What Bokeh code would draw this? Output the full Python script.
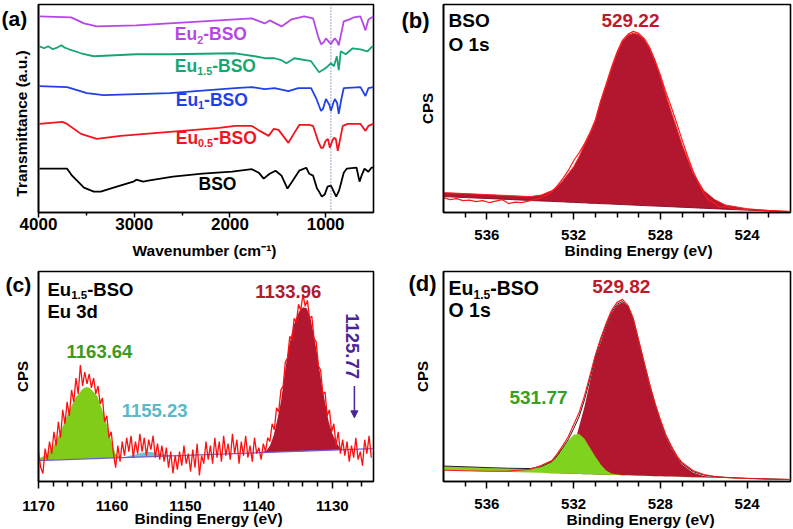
import numpy as np
from math import pi
from bokeh.plotting import figure
from bokeh.models import Range1d, Label, Span, Arrow, NormalHead, FixedTicker, GridBox, Column
from bokeh.embed import file_html
from bokeh.resources import INLINE

# ---------------- (a) FTIR spectra (wavenumber, offset transmittance) ----------------
wn_bso = [3990, 3701, 3649, 3525, 3422, 3350, 3216, 3009, 2978, 2906, 2854, 2596, 2287, 1977, 1771,
          1699, 1647, 1585, 1523, 1461, 1399, 1358, 1276, 1203, 1172, 1131, 1090, 1069, 1040, 1010,
          980, 945, 910, 890, 860, 830, 811, 780, 677, 646, 625, 594, 553, 522, 502]
t_bso = [44, 44, 37, 25, 21, 21, 25, 31, 33, 31, 32, 36, 39, 41, 43.5,
         40, 34, 39, 42, 37, 24, 30, 42, 45, 39, 37, 24, 21, 16, 18,
         26, 27, 20, 16, 22, 33, 40, 44, 45, 31, 37, 44, 41, 45, 45]

wn_e05 = [3990, 3752, 3701, 3556, 3391, 3143, 2627, 2111, 1946, 1771, 1688, 1595, 1544, 1492, 1389,
          1327, 1276, 1172, 1131, 1079, 1048, 1028, 1000, 976, 956, 930, 914, 894, 873, 852,
          821, 770, 636, 584, 553, 502]
t_e05 = [89, 91, 89, 79, 74, 77, 81, 85, 87, 87, 82, 77, 84, 83, 70,
         80, 88, 88, 87, 72, 65, 65, 72, 74, 65, 72, 75, 74, 62, 72,
         87, 89, 89, 82, 87, 89]

wn_e1 = [3990, 3701, 3494, 3319, 2627, 1946, 1771, 1637, 1533, 1389, 1286, 1152, 1100, 1048, 1028,
         997, 960, 945, 920, 904, 880, 863, 840, 811, 636, 584, 553, 502]
t_e1 = [127, 126, 120, 118, 120, 125, 126, 124, 125, 122, 125, 125, 115, 102, 104,
        114, 108, 102, 110, 114, 110, 99, 112, 125, 126, 117, 125, 126]

wn_e15 = [3990, 3940, 3900, 3850, 3800, 3760, 3732, 3680, 3556, 3422, 2978, 2627, 1946, 1740, 1637,
          1533, 1461, 1410, 1327, 1152, 1069, 1018, 976, 945, 914, 883, 863, 842, 790, 718,
          636, 563, 512, 502]
t_e15 = [167, 165, 167, 164, 166, 168, 166, 164, 160, 157, 159, 159, 160, 157, 155,
         155, 153, 150, 155, 152, 141, 144, 147, 150, 147, 157, 143, 162, 159, 165,
         164, 162, 167, 167]

wn_e2 = [3990, 3659, 3525, 3391, 2978, 2287, 1771, 1637, 1585, 1461, 1358, 1224, 1131, 1079, 1048,
         1020, 997, 970, 945, 920, 904, 880, 863, 811, 750, 708, 636, 584, 553, 502]
t_e2 = [197, 196, 190, 187, 188, 192, 195, 190, 193, 187, 194, 197, 195, 177, 169,
        171, 175, 172, 169, 173, 175, 172, 168, 192, 194, 196, 197, 183, 194, 197]

marker_wn = 945
a_ticks = [4000, 3000, 2000, 1000]
a_minor = [3500, 2500, 1500]

# ---------------- (b) / (d) O 1s XPS ----------------
grid_o = [538, 537, 536, 535, 534, 533.5, 533, 532.75, 532.5, 532.25, 532, 531.75, 531.5, 531.25, 531,
          530.75, 530.5, 530.25, 530, 529.75, 529.5, 529.25, 529, 528.75, 528.5, 528.25, 528, 527.75,
          527.5, 527.25, 527, 526.5, 526, 525.5, 525, 524, 523, 522]
b_base = [16, 15, 14.1, 13.1, 12.1, 11.6, 11.2, 10.9, 10.7, 10.4, 10.2, 9.9, 9.7, 9.4, 9.2,
          8.9, 8.7, 8.5, 8.2, 8.0, 7.7, 7.5, 7.2, 7.0, 6.7, 6.5, 6.3, 6.0,
          5.8, 5.5, 5.3, 4.8, 4.3, 3.8, 3.3, 2.4, 1.4, 0.5]
b_peak = [20, 19, 18, 17, 16, 17.5, 22, 26, 32, 39, 46, 56, 68, 79, 92,
          112, 128, 145, 160, 172, 178, 180, 179, 174, 165, 152, 137, 118,
          101, 85, 68, 40, 22, 13, 7.5, 3.8, 2, 1]
b_raw_e = [538, 537.7, 537.4, 537.1, 536.8, 536.5, 536.2, 535.9, 535.6, 535.3, 535.0, 534.7, 534.4, 534.1,
           533.8, 533.5, 533.2, 533, 532.75, 532.5, 532.25, 532, 531.75, 531.5, 531.25, 531, 530.75, 530.5,
           530.25, 530, 529.75, 529.5, 529.25, 529, 528.75, 528.5, 528.25, 528, 527.75, 527.5, 527.25, 527,
           526.75, 526.5, 526.25, 526, 525.75, 525.5, 525.25, 525, 524.5, 524, 523.5, 523, 522.5, 522]
b_raw = [15, 13, 14, 12, 12.5, 11, 12, 10, 11.5, 13, 9, 10.5, 10, 11.5,
         13, 15, 18, 21, 27, 34, 42, 52, 60, 69, 80, 93, 112, 129,
         146, 161, 173, 179, 182, 180, 175, 166, 153, 138, 121, 106, 90, 73,
         57, 42, 30, 19, 12, 9, 5, 6, 3, 3, 2.5, 2, 1.5, 1]

d_base = [11.5, 10.9, 10.2, 9.6, 9.0, 8.7, 8.4, 8.2, 8.1, 7.9, 7.7, 7.6, 7.4, 7.3, 7.1,
          6.9, 6.8, 6.6, 6.5, 6.3, 6.2, 6.0, 5.9, 5.7, 5.5, 5.4, 5.2, 5.1,
          4.9, 4.8, 4.6, 4.3, 4.0, 3.7, 3.4, 2.8, 2.1, 1.5]
d_green = [15.3, 14.5, 13.5, 12.8, 12.0, 15, 21, 28, 34, 41, 47, 48, 43, 34, 25,
           17, 11, 8, 7, 6.5, 6.3, 6.1, 6.0, 5.8, 5.6, 5.5, 5.3, 5.2,
           5.0, 4.9, 4.7, 4.4, 4.1, 3.8, 3.5, 2.9, 2.2, 1.6]
d_red = [11.5, 10.9, 10.2, 9.6, 9.0, 8.7, 8.6, 9, 12, 20, 35, 55, 75, 100, 124,
         140, 156, 169, 177, 180, 176, 162, 140, 118, 97, 77, 60, 45,
         34, 25, 17, 9, 5.5, 4.5, 4, 3, 2.5, 2]
d_raw = [11.3, 10.8, 10.3, 10.5, 12.3, 16, 21, 28, 36, 45, 57, 69, 86, 106, 127,
         144, 159, 172, 180, 183, 177, 164, 142, 120, 98, 79, 62, 47,
         36, 26, 19, 11, 7, 5, 4, 3, 2.5, 2]
d_env = [15.5, 14.8, 14, 13.3, 13, 15, 20, 26, 34, 42, 53, 65, 82, 103, 125,
         142, 157, 170, 178, 181, 176, 163, 141, 119, 98, 78, 61, 46,
         35, 26, 18, 10, 6.5, 5, 4.2, 3.2, 2.6, 2]
o_ticks = [536, 532, 528, 524]
o_minor = [537, 535, 534, 533, 531, 530, 529, 527, 526, 525, 523]

# ---------------- (c) Eu 3d XPS ----------------
c_green_e = [1170, 1169, 1168, 1167, 1166, 1165, 1164, 1163.5, 1163, 1162, 1161, 1160, 1159.5, 1159, 1158.5]
c_green = [23, 26, 35, 50, 68, 84, 93, 95, 94, 86, 65, 38, 28, 24.5, 24.2]
c_green_base = [21, 21.3, 21.5, 21.8, 22.1, 22.3, 22.6, 22.7, 22.8, 23.1, 23.4, 23.6, 23.8, 23.9, 24.0]
c_blue_e = [1158.5, 1157, 1156, 1155, 1154, 1153, 1152, 1151]
c_blue = [24.2, 27, 29, 30, 29, 27.5, 26, 25.2]
c_blue_base = [24.0, 24.4, 24.7, 24.9, 25.2, 25.5, 25.7, 26.0]
c_red_e = [1140, 1139, 1138.5, 1138, 1137.5, 1137, 1136.5, 1136, 1135.5, 1135, 1134.5, 1134, 1133.5, 1133,
           1132.5, 1132, 1131.5, 1131, 1130.5, 1130, 1129.5, 1129, 1128.5, 1128]
c_red = [28.9, 31, 36, 46, 62, 80, 108, 132, 150, 163, 171, 175, 174, 165,
         146, 125, 100, 80, 60, 48, 40, 34, 32.5, 32.1]
c_red_base = [28.9, 29.2, 29.3, 29.4, 29.6, 29.7, 29.8, 30.0, 30.1, 30.2, 30.4, 30.5, 30.6, 30.8,
              30.9, 31.0, 31.2, 31.3, 31.4, 31.6, 31.7, 31.8, 32.0, 32.1]
c_bg_e = [1170, 1124.4]
c_bg = [21, 33]
c_raw_start, c_raw_step = 1170.0, 0.3
c_raw = [30, 14, 8, 33, 22, 40, 28, 50, 36, 60,
         44, 72, 58, 80, 66, 92, 80, 104, 88, 117,
         96, 110, 98, 108, 94, 104, 88, 96, 78, 84,
         60, 66, 44, 50, 28, 14, 36, 20, 40, 26,
         44,
         30, 46, 24, 40, 28, 48, 30, 44, 26,
         42, 32, 46, 24, 38, 22, 36, 20, 34, 14,
         30, 8, 26, 12, 30, 16, 36, 18, 28, 10,
         32, 14, 38, 6, 26, 18, 40, 22, 36, 18,
         44, 24, 40, 20, 46, 26, 38, 22, 48, 28,
         42, 18, 40, 26, 46, 24, 36, 20, 44, 28,
         34, 22, 38, 30, 44, 40, 58, 52, 74, 70,
         92, 96, 120, 124, 146, 142, 164, 160, 178, 172,
         188, 176, 182, 164, 166, 144, 140, 116, 112, 88,
         90, 66, 72, 50, 58, 36, 50, 28, 42, 26,
         40, 20, 36, 24, 44, 22, 30, 16, 42, 28,
         46, 24]
c_raw_e = c_raw_start - c_raw_step * np.arange(len(c_raw))
c_ticks = [1170, 1160, 1150, 1140, 1130]
c_minor = [1168, 1166, 1164, 1162, 1158, 1156, 1154, 1152, 1148, 1146, 1144, 1142,
           1138, 1136, 1134, 1132, 1128, 1126]

# ---------------- helpers ----------------
FONT = "Liberation Sans"
WID = {'E': 667, 'u': 611, '-': 333, 'B': 722, 'S': 667, 'O': 778, '.': 278, ' ': 278, 'd': 611, 's': 556}
for ch in "0123456789":
    WID[ch] = 556


def tw(s, size):
    return sum(WID.get(ch, 600) for ch in s) * size / 1000.0


def base_fig(width, height, xr, yr, bl, br, bt, bb, ticks, minor, tsize, tout, mout, standoff,
             ytitle, ystand):
    p = figure(width=width, height=height, x_range=Range1d(*xr), y_range=Range1d(*yr),
               output_backend="svg", toolbar_location=None,
               min_border_left=bl, min_border_right=br, min_border_top=bt, min_border_bottom=bb)
    p.xgrid.visible = False
    p.ygrid.visible = False
    p.outline_line_color = "black"
    p.outline_line_width = 1.6
    p.outline_line_alpha = 1.0
    ya = p.yaxis[0]
    ya.ticker = FixedTicker(ticks=[])
    ya.major_tick_out = 0
    ya.major_tick_in = 0
    ya.minor_tick_out = 0
    ya.minor_tick_in = 0
    ya.major_label_standoff = 0
    ya.axis_line_color = "black"
    ya.axis_line_width = 1.6
    if ytitle:
        ya.axis_label = ytitle
        ya.axis_label_standoff = ystand
        ya.axis_label_text_font = FONT
        ya.axis_label_text_font_style = "bold"
        ya.axis_label_text_font_size = "15px"
        ya.axis_label_text_color = "black"
    xa = p.xaxis[0]
    xa.ticker = FixedTicker(ticks=ticks, minor_ticks=minor)
    xa.axis_line_width = 1.6
    xa.major_tick_line_width = 1.5
    xa.minor_tick_line_width = 1.5
    xa.major_tick_in = 0
    xa.minor_tick_in = 0
    xa.major_tick_out = tout
    xa.minor_tick_out = mout
    xa.major_label_standoff = standoff
    xa.major_label_text_font = FONT
    xa.major_label_text_font_style = "bold"
    xa.major_label_text_font_size = f"{tsize}px"
    xa.major_label_text_color = "black"
    return p


def lab(p, x, y, text, size, color="black", align="left", x_offset=0, angle=0.0):
    p.add_layout(Label(x=x, y=y, x_offset=x_offset, text=text, text_font=FONT,
                       text_font_style="bold", text_font_size=f"{size}px", text_color=color,
                       text_align=align, text_baseline="middle", angle=angle))


def sub_lab(p, x, y, parts, size, color, x_offset=0):
    off = x_offset
    for txt, is_sub in parts:
        fs = round(size * 0.62, 1) if is_sub else size
        yy = y - size * 0.3 if is_sub else y
        lab(p, x, yy, txt, fs, color, "left", off)
        off += tw(txt, fs)


# ---------------- panel (a) ----------------
pa = base_fig(400, 265, (4000, 500), (0, 209), 34, 27, 3, 53, a_ticks, a_minor, 17, 5, 3, 0, None, 0)
pa.add_layout(Span(location=marker_wn, dimension="height", line_color="#5f6fa6",
                   line_dash="1 2", line_width=1.2))
series_a = [(wn_bso, t_bso, "#000000"), (wn_e05, t_e05, "#f2141e"), (wn_e1, t_e1, "#2141e6"),
            (wn_e15, t_e15, "#17a673"), (wn_e2, t_e2, "#b548e4")]
for xs, ys, col in series_a:
    pa.line(xs, ys, line_color=col, line_width=1.8)
sub_lab(pa, 2576, 179, [("Eu", False), ("2", True), ("-BSO", False)], 17.5, "#b548e4")
sub_lab(pa, 2576, 147, [("Eu", False), ("1.5", True), ("-BSO", False)], 17.5, "#17a673")
sub_lab(pa, 2566, 113, [("Eu", False), ("1", True), ("-BSO", False)], 17.5, "#2141e6")
sub_lab(pa, 2566, 75, [("Eu", False), ("0.5", True), ("-BSO", False)], 17.5, "#f2141e")
lab(pa, 2328, 29, "BSO", 17.5, "black")

# ---------------- panel (b) ----------------
DARKRED = "#b3162f"
pb = base_fig(393, 265, (538, 522), (0, 209), 43, 3, 4, 52, o_ticks, o_minor, 15, 7, 5, 10, "CPS", 8)
pb.varea(x=grid_o, y1=b_base, y2=b_peak, fill_color=DARKRED)
pb.line(grid_o, b_base, line_color="#8e1028", line_width=1)
pb.line(grid_o, b_peak, line_color="#ff2020", line_width=1)
pb.line(b_raw_e, b_raw, line_color="#ff1a1a", line_width=1.2)
lab(pb, 538, 193, "BSO", 19, "black", "left", 5)
lab(pb, 538, 169, "O 1s", 19, "black", "left", 5)
lab(pb, 529.38, 193, "529.22", 19, "#c0182c", "center")

# ---------------- panel (c) ----------------
GREEN = "#80cc18"
PURPLE = "#4a2597"
pc = base_fig(400, 264, (1170, 1124.4), (0, 211), 38, 27, 5, 48, c_ticks, c_minor, 15, 7, 5, 12, "CPS", 8)
pc.varea(x=c_green_e, y1=c_green_base, y2=c_green, fill_color=GREEN)
pc.varea(x=c_blue_e, y1=c_blue_base, y2=c_blue, fill_color="#6cc4d2")
pc.varea(x=c_red_e, y1=c_red_base, y2=c_red, fill_color=DARKRED)
pc.line(c_bg_e, c_bg, line_color="#6b5fd0", line_width=1.3)
pc.line(c_raw_e, c_raw, line_color="#ff1010", line_width=1.3)
sub_lab(pc, 1170, 193, [("Eu", False), ("1.5", True), ("-BSO", False)], 18.5, "black", 9)
lab(pc, 1170, 171, "Eu 3d", 18.5, "black", "left", 9)
lab(pc, 1161.7, 131, "1163.64", 18.5, "#3c9a1c", "center")
lab(pc, 1154.2, 71, "1155.23", 18.5, "#5ab8c8", "center")
lab(pc, 1136.0, 191, "1133.96", 18.5, "#b01c2e", "center")
lab(pc, 1127.3, 136, "1125.77", 18.5, PURPLE, "center", 0, -pi / 2)
pc.add_layout(Arrow(end=NormalHead(size=7, fill_color=PURPLE, line_color=PURPLE),
                    x_start=1127.0, y_start=96, x_end=1127.0, y_end=64,
                    line_color=PURPLE, line_width=1.5))

# ---------------- panel (d) ----------------
pd_ = base_fig(393, 264, (538, 522), (0, 211), 43, 3, 6, 47, o_ticks, o_minor, 15, 7, 5, 10, "CPS", 13)
pd_.varea(x=grid_o, y1=d_base, y2=d_red, fill_color=DARKRED)
pd_.varea(x=grid_o, y1=d_base, y2=d_green, fill_color="#7fd31e")
pd_.line(grid_o, d_env, line_color="#222222", line_width=1)
pd_.line(grid_o, d_raw, line_color="#ff1a1a", line_width=1.2)
sub_lab(pd_, 538, 194, [("Eu", False), ("1.5", True), ("-BSO", False)], 19.5, "black", 5)
lab(pd_, 538, 172, "O 1s", 19.5, "black", "left", 5)
lab(pd_, 529.8, 196, "529.82", 19, "#c0182c", "center")
lab(pd_, 533.62, 84, "531.77", 19, "#3a9e1e", "center")

# ---------------- overlay: panel letters and axis titles (page pixel positions) ----------------
ov = figure(width=793, height=529, x_range=Range1d(0, 793), y_range=Range1d(529, 0),
            output_backend="svg", toolbar_location=None, x_axis_location=None, y_axis_location=None,
            min_border=0, background_fill_color=None, border_fill_color=None, outline_line_color=None)
ov.xgrid.visible = False
ov.ygrid.visible = False
lab(ov, 1, 18, "(a)", 21)
lab(ov, 401, 20, "(b)", 22)
lab(ov, 5, 284, "(c)", 21)
lab(ov, 408, 283, "(d)", 22)
lab(ov, 204, 250, "Wavenumber (cm\u207b\u00b9)", 15.5, "black", "center")
lab(ov, 21, 123, "Transmittance (a.u.)", 15.5, "black", "center", 0, pi / 2)
lab(ov, 638, 250, "Binding Energy (eV)", 15.5, "black", "center")
lab(ov, 208, 518, "Binding Energy (eV)", 15.5, "black", "center")
lab(ov, 640, 519, "Binding Energy (eV)", 15.5, "black", "center")

layout = GridBox(children=[(pa, 0, 0), (pb, 0, 1), (pc, 1, 0), (pd_, 1, 1),
                           (Column(children=[ov]), 0, 0, 2, 2)])
open("out.html", "w").write(file_html(layout, INLINE))
